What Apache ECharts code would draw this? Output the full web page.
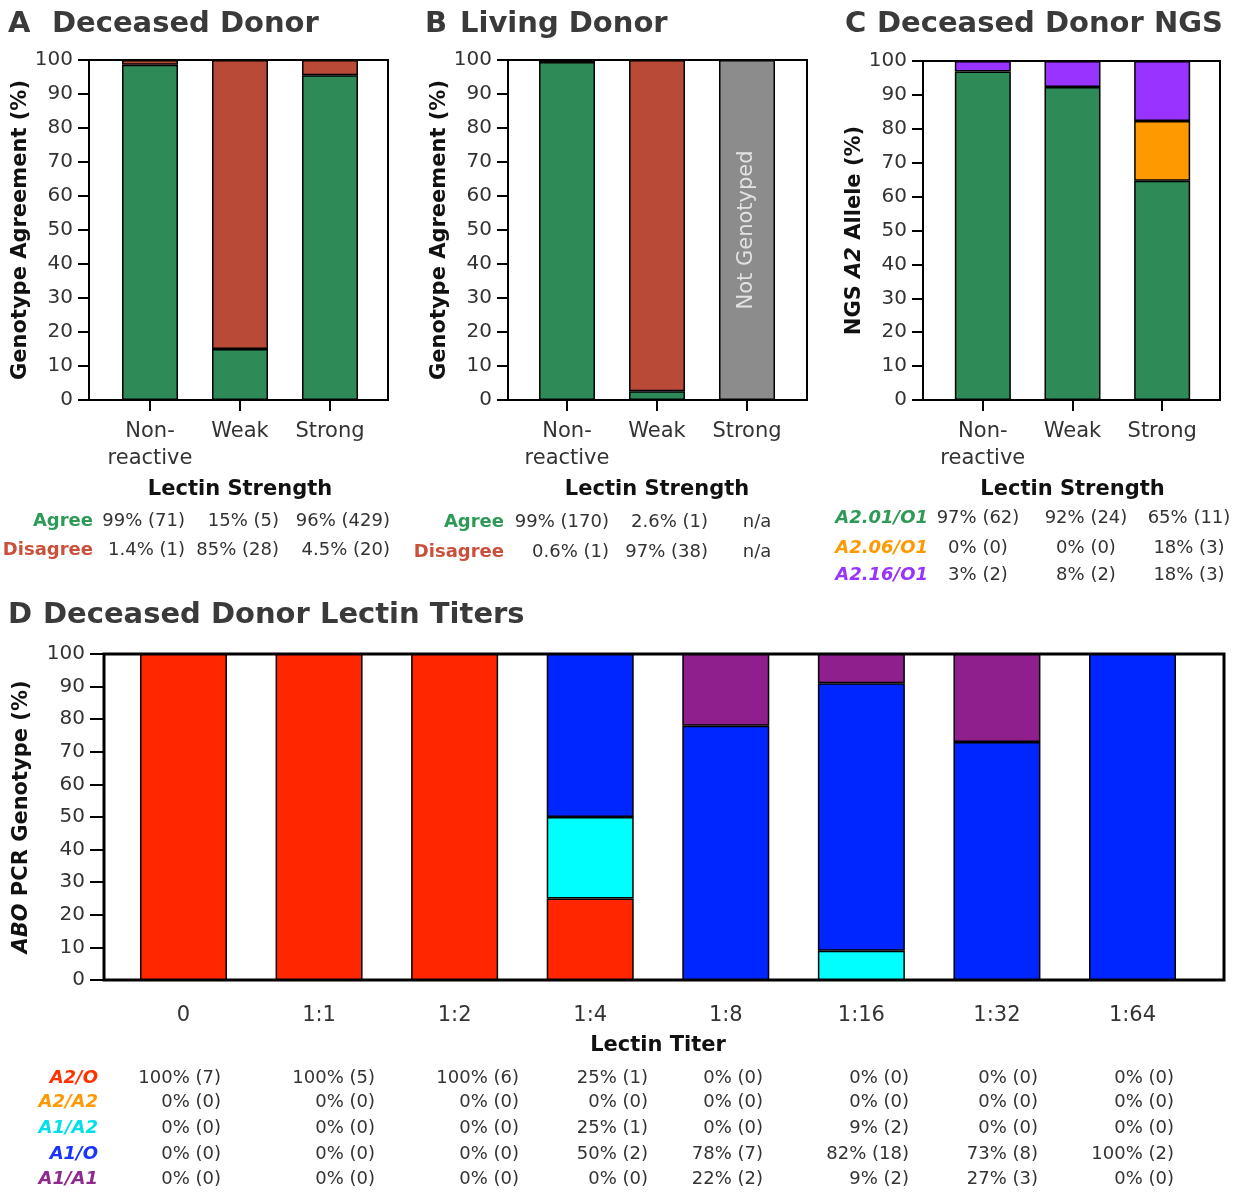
<!DOCTYPE html>
<html>
<head>
<meta charset="utf-8">
<script src="https://cdn.jsdelivr.net/npm/echarts@6/dist/echarts.min.js"></script>
<style>
html,body{margin:0;padding:0;background:#fff}
#chart{width:1244px;height:1194px}
</style>
</head>
<body>
<div id="chart"></div>
<script>
// ---------- data ----------
const strengthCats = ['Non-\nreactive', 'Weak', 'Strong'];

// A: deceased donors, genotype agreement (%)
const aAgree    = [98.6, 15, 95.5];
const aDisagree = [1.4, 85, 4.5];
const aAgreeText    = ['99% (71)', '15% (5)', '96% (429)'];
const aDisagreeText = ['1.4% (1)', '85% (28)', '4.5% (20)'];

// B: living donors
const bAgree        = [99.4, 2.6, 0];
const bDisagree     = [0.6, 97.4, 0];
const bNotGenotyped = [0, 0, 100];
const bAgreeText    = ['99% (170)', '2.6% (1)', 'n/a'];
const bDisagreeText = ['0.6% (1)', '97% (38)', 'n/a'];

// C: deceased donors, NGS A2 allele (%)
const cA201 = [96.9, 92.3, 64.7];
const cA206 = [0, 0, 17.6];
const cA216 = [3.1, 7.7, 17.7];
const cA201Text = ['97% (62)', '92% (24)', '65% (11)'];
const cA206Text = ['0% (0)', '0% (0)', '18% (3)'];
const cA216Text = ['3% (2)', '8% (2)', '18% (3)'];

// D: lectin titers, ABO PCR genotype (%)
const titerCats = ['0', '1:1', '1:2', '1:4', '1:8', '1:16', '1:32', '1:64'];
const dA2O  = [100, 100, 100, 25, 0, 0, 0, 0];
const dA2A2 = [0, 0, 0, 0, 0, 0, 0, 0];
const dA1A2 = [0, 0, 0, 25, 0, 9, 0, 0];
const dA1O  = [0, 0, 0, 50, 78, 82, 73, 100];
const dA1A1 = [0, 0, 0, 0, 22, 9, 27, 0];
const dA2OText  = ['100% (7)', '100% (5)', '100% (6)', '25% (1)', '0% (0)', '0% (0)', '0% (0)', '0% (0)'];
const dA2A2Text = ['0% (0)', '0% (0)', '0% (0)', '0% (0)', '0% (0)', '0% (0)', '0% (0)', '0% (0)'];
const dA1A2Text = ['0% (0)', '0% (0)', '0% (0)', '25% (1)', '0% (0)', '9% (2)', '0% (0)', '0% (0)'];
const dA1OText  = ['0% (0)', '0% (0)', '0% (0)', '50% (2)', '78% (7)', '82% (18)', '73% (8)', '100% (2)'];
const dA1A1Text = ['0% (0)', '0% (0)', '0% (0)', '0% (0)', '22% (2)', '9% (2)', '27% (3)', '0% (0)'];

const yTicks = [0, 10, 20, 30, 40, 50, 60, 70, 80, 90, 100];

// ---------- styling ----------
const FONT = 'DejaVu Sans';
const GREEN = '#2e8b57', BRICK = '#b84a37', GREY = '#8c8c8c';
const ORANGE = '#ff9900', VIOLET = '#9933ff';
const RED = '#ff2600', CYAN = '#00ffff', BLUE = '#0026ff', PLUM = '#8f1f8c';
const TXT = '#333';
const OUTLINE = 1.5;   // drawn inside each segment, so shared edges add up

// zero shares are left out so they do not leave a flat outline on the stack
function shares(arr) { return arr.map(v => (v > 0 ? v : '-')); }

function barSeries(panel, values, color, width, extra) {
  return Object.assign({
    type: 'bar', xAxisIndex: 4 + panel, yAxisIndex: 4 + panel, stack: 'p' + panel,
    data: shares(values), barWidth: width,
    itemStyle: { color: color, borderColor: '#000', borderWidth: OUTLINE },
    emphasis: { disabled: true }
  }, extra || {});
}

// framed panel: visible percentage axis
function frameY(idx, name, gap, tickLen, margin) {
  return {
    type: 'value', gridIndex: idx, min: 0, max: 100, interval: 10,
    axisLine: { show: false },
    axisTick: { show: true, length: tickLen, lineStyle: { color: '#000', width: 2 } },
    axisLabel: { fontFamily: FONT, fontSize: 20, color: TXT, margin: margin,
                 formatter: v => (yTicks.includes(v) ? String(v) : '') },
    splitLine: { show: false },
    name: name, nameLocation: 'middle', nameGap: gap,
    nameTextStyle: {
      fontFamily: FONT, fontSize: 21, fontWeight: 'bold', color: '#111',
      rich: {
        n: { fontFamily: FONT, fontSize: 21, fontWeight: 'bold', color: '#111' },
        i: { fontFamily: FONT, fontSize: 21, fontWeight: 'bold', fontStyle: 'italic', color: '#111' }
      }
    }
  };
}
function frameX(idx) {
  return { type: 'value', gridIndex: idx, min: 0, max: 1, show: false };
}
// inner bar area: categories and hidden 0-100 scale
function barX(idx, cats, name, gap, tickLen, margin) {
  return {
    type: 'category', gridIndex: idx, data: cats,
    axisLine: { show: false },
    axisTick: { show: tickLen > 0, alignWithLabel: true, length: tickLen,
                lineStyle: { color: '#000', width: 2 } },
    axisLabel: { fontFamily: FONT, fontSize: 21, lineHeight: 27, color: TXT, margin: margin, interval: 0 },
    splitLine: { show: false },
    name: name, nameLocation: 'middle', nameGap: gap,
    nameTextStyle: { fontFamily: FONT, fontSize: 21, fontWeight: 'bold', color: '#111', lineHeight: 24 }
  };
}
function barY(idx) {
  return { type: 'value', gridIndex: idx, min: 0, max: 100, show: false };
}

function txt(x, y, text, o) {
  o = o || {};
  const font = (o.italic ? 'italic ' : '') + (o.bold ? 'bold ' : '') + (o.size || 18) + 'px "' + FONT + '"';
  const align = o.align || 'right';
  return { type: 'text', x: x, y: y, silent: true, z: 100,
    style: { text: text, fill: o.color || TXT, font: font,
             align: align, textAlign: align, verticalAlign: 'middle', textVerticalAlign: 'middle' } };
}

// ---------- text blocks (headings and count tables) ----------
const graphics = [];
const head = (x, y, s, size) => graphics.push(txt(x, y, s, { bold: true, size: size, color: '#3a3a3a', align: 'left' }));
head(8, 24, 'A', 29);   head(52, 24, 'Deceased Donor', 29);
head(425, 24, 'B', 29); head(460, 24, 'Living Donor', 29);
head(845, 24, 'C', 29); head(877, 24, 'Deceased Donor NGS', 29);
head(8, 615, 'D', 29);  head(43, 615, 'Deceased Donor Lectin Titers', 29);

function tableRow(label, labelX, labelColor, italic, y, texts, xs, aligns) {
  graphics.push(txt(labelX, y, label, { bold: true, italic: italic, color: labelColor }));
  texts.forEach((s, i) => graphics.push(txt(xs[i], y, s, { align: aligns ? aligns[i] : 'right' })));
}
tableRow('Agree', 93, '#2e9a57', false, 521, aAgreeText, [185, 279, 390]);
tableRow('Disagree', 93, '#c9503a', false, 550, aDisagreeText, [185, 279, 390]);
tableRow('Agree', 504, '#2e9a57', false, 522, bAgreeText, [609, 708, 757], ['right', 'right', 'center']);
tableRow('Disagree', 504, '#c9503a', false, 552, bDisagreeText, [609, 708, 757], ['right', 'right', 'center']);
const cX = [978, 1086, 1189], cAl = ['center', 'center', 'center'];
tableRow('A2.01/O1', 928, '#2e9a57', true, 518, cA201Text, cX, cAl);
tableRow('A2.06/O1', 928, ORANGE, true, 548, cA206Text, cX, cAl);
tableRow('A2.16/O1', 928, VIOLET, true, 575, cA216Text, cX, cAl);
const dX = [221, 375, 519, 648, 763, 909, 1038, 1174];
tableRow('A2/O', 98, '#ff3300', true, 1078, dA2OText, dX);
tableRow('A2/A2', 98, ORANGE, true, 1102, dA2A2Text, dX);
tableRow('A1/A2', 98, '#00e0e8', true, 1128, dA1A2Text, dX);
tableRow('A1/O', 98, '#1a33ff', true, 1154, dA1OText, dX);
tableRow('A1/A1', 98, '#8e2a8e', true, 1179, dA1A1Text, dX);

// ---------- chart ----------
const frame = w => ({ show: true, borderColor: '#000', borderWidth: w, backgroundColor: 'transparent' });
const plain = { show: false };

const option = {
  backgroundColor: '#fff',
  animation: false,
  grid: [
    // outer framed panels
    Object.assign({ left: 89, top: 60, width: 299, height: 340 }, frame(2)),
    Object.assign({ left: 508, top: 60, width: 299, height: 340 }, frame(2)),
    Object.assign({ left: 923, top: 61, width: 297, height: 339 }, frame(2)),
    Object.assign({ left: 104, top: 654, width: 1120, height: 326 }, frame(3)),
    // bar areas inside each frame
    Object.assign({ left: 105, top: 60, width: 270, height: 340 }, plain),
    Object.assign({ left: 522, top: 60, width: 270, height: 340 }, plain),
    Object.assign({ left: 938, top: 61, width: 269, height: 339 }, plain),
    Object.assign({ left: 115.7, top: 654, width: 1084.6, height: 326 }, plain)
  ],
  xAxis: [
    frameX(0), frameX(1), frameX(2), frameX(3),
    barX(4, strengthCats, 'Lectin Strength', 78, 11, 18),
    barX(5, strengthCats, 'Lectin Strength', 78, 11, 18),
    barX(6, strengthCats, 'Lectin Strength', 78, 11, 18),
    barX(7, titerCats, 'Lectin Titer', 54, 0, 22)
  ],
  yAxis: [
    frameY(0, 'Genotype Agreement (%)', 57, 11, 16),
    frameY(1, 'Genotype Agreement (%)', 57, 11, 16),
    frameY(2, '{n|NGS }{i|A2}{n| Allele (%)}', 58, 11, 16),
    frameY(3, '{i|ABO}{n| PCR Genotype (%)}', 72, 14, 19),
    barY(4), barY(5), barY(6), barY(7)
  ],
  series: [
    barSeries(0, aAgree, GREEN, 56),
    barSeries(0, aDisagree, BRICK, 56),

    barSeries(1, bAgree, GREEN, 56),
    barSeries(1, bDisagree, BRICK, 56),
    barSeries(1, bNotGenotyped, GREY, 56, {
      label: { show: true, position: 'inside', rotate: 90, formatter: 'Not Genotyped',
               fontFamily: FONT, fontSize: 21, color: '#e2e2e2' }
    }),

    barSeries(2, cA201, GREEN, 56),
    barSeries(2, cA206, ORANGE, 56),
    barSeries(2, cA216, VIOLET, 56),

    barSeries(3, dA2O, RED, 87),
    barSeries(3, dA2A2, ORANGE, 87),
    barSeries(3, dA1A2, CYAN, 87),
    barSeries(3, dA1O, BLUE, 87),
    barSeries(3, dA1A1, PLUM, 87)
  ],
  graphic: graphics
};

const chart = echarts.init(document.getElementById('chart'), null, { renderer: 'canvas' });
chart.setOption(option);
</script>
</body>
</html>
